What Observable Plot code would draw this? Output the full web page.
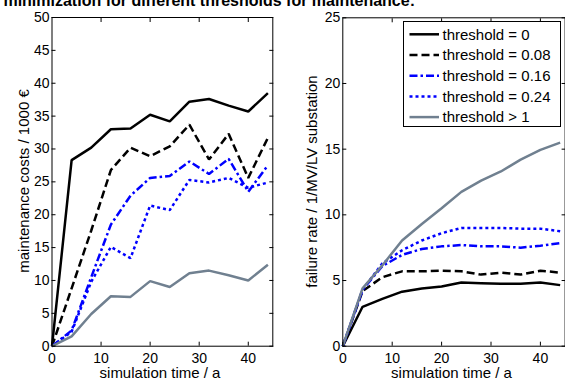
<!DOCTYPE html>
<html><head><meta charset="utf-8">
<script src="https://cdn.jsdelivr.net/npm/d3@7"></script>
<script src="https://cdn.jsdelivr.net/npm/@observablehq/plot@0.6"></script>
<style>
body{margin:0;background:#fff;}
#wrap{position:relative;width:565px;height:380px;overflow:hidden;font-family:"Liberation Sans",Arial,sans-serif;background:#fff;}
#wrap svg{position:absolute;top:0;}
#legend{position:absolute;left:403px;top:21px;width:158px;height:106px;border:1px solid #000;background:#fff;box-sizing:border-box;}
#legend svg{position:absolute;left:0;top:0;}
</style></head><body>
<div id="wrap"></div>
<script>
// ---- data ----
const time = [0, 4, 8, 12, 16, 20, 24, 28, 32, 36, 40, 44];
const seriesNames = ["threshold = 0", "threshold = 0.08", "threshold = 0.16", "threshold = 0.24", "threshold > 1"];

// maintenance costs / 1000 €
const cost_t0   = [0, 28.3, 30.2, 33.0, 33.1, 35.2, 34.2, 37.2, 37.6, 36.6, 35.7, 38.5];
const cost_t008 = [0, 8.8, 17.6, 26.8, 30.2, 28.9, 30.4, 33.7, 28.4, 32.3, 25.6, 31.7];
const cost_t016 = [0, 2.4, 10.5, 18.5, 22.9, 25.6, 25.9, 28.1, 26.2, 28.5, 23.5, 27.5];
const cost_t024 = [0, 2.2, 9.8, 15.1, 13.4, 21.4, 20.7, 25.3, 24.9, 25.6, 24.1, 24.9];
const cost_tInf = [0, 1.5, 4.9, 7.6, 7.5, 9.9, 9.0, 11.1, 11.5, 10.8, 10.0, 12.4];

// failure rate / 1/MV/LV substation
const fail_t0   = [0, 3.0, 3.6, 4.15, 4.4, 4.55, 4.85, 4.8, 4.75, 4.75, 4.85, 4.65];
const fail_t008 = [0, 4.2, 5.25, 5.7, 5.7, 5.75, 5.7, 5.45, 5.6, 5.45, 5.75, 5.6];
const fail_t016 = [0, 4.3, 6.1, 6.95, 7.4, 7.6, 7.7, 7.6, 7.6, 7.5, 7.65, 7.85];
const fail_t024 = [0, 4.3, 6.3, 7.3, 8.05, 8.6, 9.0, 9.0, 9.0, 8.95, 8.95, 8.75];
const fail_tInf = [0, 4.4, 6.15, 8.05, 9.3, 10.5, 11.75, 12.6, 13.3, 14.2, 14.95, 15.5];

const xTicks = [0, 10, 20, 30, 40];
const costTicks = [0, 5, 10, 15, 20, 25, 30, 35, 40, 45, 50];
const failTicks = [0, 5, 10, 15, 20, 25];

// ---- styles ----
const lineStyles = [
  {stroke: "#000000", dash: null},
  {stroke: "#000000", dash: "8,4"},
  {stroke: "#0000ff", dash: "8,3,2.5,3"},
  {stroke: "#0000ff", dash: "3,3"},
  {stroke: "#708090", dash: null}
];
const FONT = "Liberation Sans, Arial, sans-serif";

function rows(arr) { return time.map((t, i) => ({t, v: arr[i]})); }

function panel(seriesArrays, yDomain, yTicks, opts) {
  const marks = [];
  seriesArrays.forEach((arr, k) => {
    const st = lineStyles[k];
    marks.push(Plot.line(rows(arr), {x: "t", y: "v", stroke: st.stroke, strokeWidth: 2.5,
      strokeDasharray: st.dash == null ? undefined : st.dash, strokeLinejoin: "miter", strokeLinecap: "butt"}));
  });
  marks.push(
    Plot.axisX({anchor: "bottom", ticks: xTicks, tickSize: -4, tickPadding: 10.5, label: null}),
    Plot.axisX({anchor: "top", ticks: xTicks.filter(d => d > 0), tickSize: -4, tickFormat: () => "", label: null}),
    Plot.axisY({anchor: "left", ticks: yTicks, tickSize: -4, tickPadding: 6.5, label: null}),
    Plot.axisY({anchor: "right", ticks: yTicks, tickSize: -4, tickFormat: () => "", label: null}),
    Plot.frame({stroke: "#000"})
  );
  return Plot.plot({
    width: opts.width, height: 380,
    marginLeft: opts.ml, marginRight: opts.mr, marginTop: opts.mt, marginBottom: 34.3,
    x: {domain: [0, 45]},
    y: {domain: yDomain},
    style: {fontFamily: FONT, fontSize: "14px", color: "#000", background: "transparent", overflow: "visible"},
    marks
  });
}

const wrap = document.getElementById("wrap");

const left = panel([cost_t0, cost_t008, cost_t016, cost_t024, cost_tInf], [0, 50], costTicks,
  {width: 282, ml: 51.5, mr: 9.7, mt: 17});
left.style.left = "0px";
wrap.appendChild(left);

const right = panel([fail_t0, fail_t008, fail_t016, fail_t024, fail_tInf], [0, 25], failTicks,
  {width: 283, ml: 60.3, mr: 0.4, mt: 17.3});
right.style.left = "282px";
wrap.appendChild(right);

// ---- text overlay: axis labels and cut-off heading ----
const ov = d3.select(wrap).append("svg").attr("width", 565).attr("height", 380)
  .style("left", "0px").style("pointer-events", "none")
  .attr("font-family", FONT).attr("font-size", 15).attr("fill", "#000");

ov.append("text").attr("x", 415).attr("y", 6.3).attr("text-anchor", "end")
  .attr("font-size", 16).attr("font-weight", "bold")
  .text("costs minimization for different thresholds for maintenance:");

ov.append("text").attr("x", 160).attr("y", 378).attr("text-anchor", "middle").text("simulation time / a");
ov.append("text").attr("x", 451.5).attr("y", 378).attr("text-anchor", "middle").text("simulation time / a");

ov.append("text").attr("transform", "translate(28.5,181) rotate(-90)").attr("text-anchor", "middle")
  .text("maintenance costs / 1000 €");
ov.append("text").attr("transform", "translate(316.5,181.5) rotate(-90)").attr("text-anchor", "middle")
  .text("failure rate / 1/MV/LV substation");

// ---- legend ----
const lg = d3.select(wrap).append("div").attr("id", "legend");
const lsvg = lg.append("svg").attr("width", 158).attr("height", 106)
  .attr("font-family", FONT).attr("font-size", 15);
seriesNames.forEach((name, k) => {
  const y = 12.3 + k * 20.7;
  const st = lineStyles[k];
  const ln = lsvg.append("line").attr("x1", 5.5).attr("x2", 35).attr("y1", y).attr("y2", y)
    .attr("stroke", st.stroke).attr("stroke-width", 2.5);
  if (st.dash) ln.attr("stroke-dasharray", st.dash);
  lsvg.append("text").attr("x", 38.5).attr("y", y).attr("dy", "0.35em").text(name);
});
</script>
</body></html>
